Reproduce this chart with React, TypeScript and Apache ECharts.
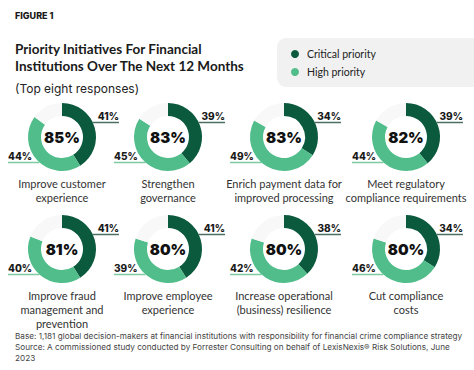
import React, { useEffect, useRef } from "react";
import * as echarts from "echarts";

const categories = [
  "Improve customer\nexperience",
  "Strengthen\ngovernance",
  "Enrich payment data for\nimproved processing",
  "Meet regulatory\ncompliance requirements",
  "Improve fraud\nmanagement and\nprevention",
  "Improve employee\nexperience",
  "Increase operational\n(business) resilience",
  "Cut compliance\ncosts",
];
const critical = [41, 39, 34, 39, 41, 41, 38, 34];
const high = [44, 45, 49, 44, 40, 39, 42, 46];
const totals = [85, 83, 83, 82, 81, 80, 80, 80];
const seriesNames = ["Critical priority", "High priority"];

const DARK = "#0c5a3e";
const LIGHT = "#50bd8b";
const REST = "#f8f8f8";
const FONT = "Inter, 'Noto Sans', sans-serif";
const LATO = "Lato, 'Noto Sans', sans-serif";

const colX = [62, 168, 284, 406];
const rowY = [137, 249];
const R_IN = 21;
const R_OUT = 34;

export default function App() {
  const ref = useRef<HTMLDivElement>(null);
  useEffect(() => {
    if (!ref.current) return;
    const chart = echarts.init(ref.current, null, { renderer: "svg" });
    const series: any[] = [];
    const graphics: any[] = [];
    categories.forEach((cat, i) => {
      const cx = colX[i % 4];
      const cy = rowY[Math.floor(i / 4)];
      series.push({
        type: "pie",
        center: [cx, cy],
        radius: [R_IN, R_OUT],
        startAngle: 90,
        clockwise: true,
        silent: true,
        label: { show: false },
        labelLine: { show: false },
        z: 2,
        data: [
          { name: seriesNames[0], value: critical[i], itemStyle: { color: DARK } },
          { name: seriesNames[1], value: high[i], itemStyle: { color: LIGHT } },
          { name: "rest", value: 100 - critical[i] - high[i], itemStyle: { color: REST } },
        ],
      });
      // right (critical) label
      const ry = cy - 14.5;
      const rdx = Math.sqrt(R_OUT * R_OUT - 14.5 * 14.5);
      graphics.push({
        type: "line",
        z: 1,
        shape: { x1: cx + rdx, y1: ry, x2: cx + 57, y2: ry },
        style: { stroke: "#4d6e60", lineWidth: 1.5 },
      });
      graphics.push({
        type: "text",
        x: cx + 57,
        y: ry - 2,
        style: {
          text: critical[i] + "%",
          fill: "#1a1a1a",
          font: `800 10px ${FONT}`,
          align: "right",
          verticalAlign: "bottom",
        },
      });
      // left (high) label
      const ly = cy + 25.5;
      const ldx = Math.sqrt(R_OUT * R_OUT - 25.5 * 25.5);
      graphics.push({
        type: "line",
        z: 1,
        shape: { x1: cx - 54, y1: ly, x2: cx - ldx, y2: ly },
        style: { stroke: "#7ccba3", lineWidth: 1.5 },
      });
      graphics.push({
        type: "text",
        x: cx - 54,
        y: ly - 2,
        style: {
          text: high[i] + "%",
          fill: "#1a1a1a",
          font: `800 10px ${FONT}`,
          align: "left",
          verticalAlign: "bottom",
        },
      });
      // center total
      graphics.push({
        type: "text",
        x: cx,
        y: cy,
        z: 5,
        style: {
          text: totals[i] + "%",
          fill: "#111",
          font: `900 15px ${FONT}`,
          align: "center",
          verticalAlign: "middle",
        },
      });
      // category label
      graphics.push({
        type: "text",
        x: cx,
        y: cy + 39,
        style: {
          text: cat,
          fill: "#333",
          font: `400 11px ${LATO}`,
          lineHeight: 14,
          align: "center",
          verticalAlign: "top",
        },
      });
    });

    // headings
    graphics.push(
      {
        type: "text",
        x: 15,
        y: 15,
        style: { text: "FIGURE 1", fill: "#1a1a1a", font: `800 9px ${FONT}`, verticalAlign: "middle" },
      },
      {
        type: "text",
        x: 15,
        y: 40,
        style: {
          text: "Priority Initiatives For Financial\nInstitutions Over The Next 12 Months",
          fill: "#1a1a1a",
          font: `700 13.5px ${LATO}`,
          lineHeight: 17,
          verticalAlign: "top",
        },
      },
      {
        type: "text",
        x: 15,
        y: 88,
        style: { text: "(Top eight responses)", fill: "#222", font: `400 12px ${FONT}`, verticalAlign: "middle" },
      },
      {
        type: "rect",
        shape: { x: 277, y: 38, width: 220, height: 49, r: 9 },
        style: { fill: "#f1f1f1" },
      },
      { type: "circle", shape: { cx: 295, cy: 54, r: 4 }, style: { fill: DARK } },
      { type: "circle", shape: { cx: 295, cy: 72, r: 4 }, style: { fill: LIGHT } },
      {
        type: "text",
        x: 307,
        y: 54,
        style: { text: seriesNames[0], fill: "#222", font: `400 10.5px ${LATO}`, verticalAlign: "middle" },
      },
      {
        type: "text",
        x: 307,
        y: 72,
        style: { text: seriesNames[1], fill: "#222", font: `400 10.5px ${LATO}`, verticalAlign: "middle" },
      },
      {
        type: "text",
        x: 15,
        y: 330,
        style: {
          text:
            "Base: 1,181 global decision-makers at financial institutions with responsibility for financial crime compliance strategy\nSource: A commissioned study conducted by Forrester Consulting on behalf of LexisNexis® Risk Solutions, June\n2023",
          fill: "#444",
          font: `400 8.2px ${FONT}`,
          lineHeight: 11,
          verticalAlign: "top",
        },
      }
    );

    chart.setOption({
      animation: false,
      backgroundColor: "#ffffff",
      series,
      graphic: graphics,
    });
    return () => chart.dispose();
  }, []);
  return (
    <div
      ref={ref}
      style={{ position: "fixed", left: 0, top: 0, width: 474, height: 370 }}
    />
  );
}
